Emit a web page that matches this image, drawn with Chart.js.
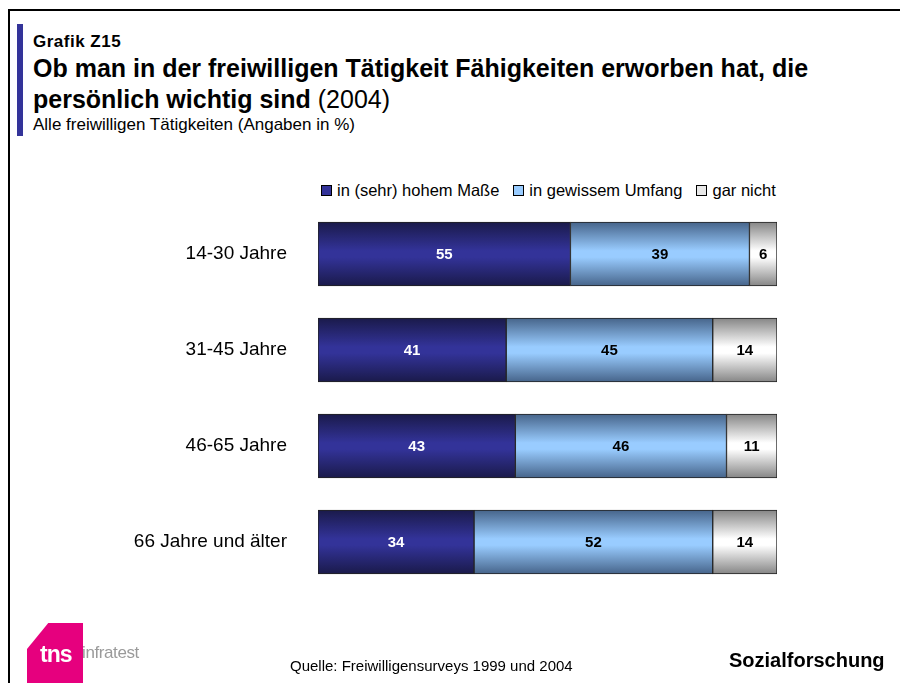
<!DOCTYPE html>
<html>
<head>
<meta charset="utf-8">
<script src="https://cdn.jsdelivr.net/npm/chart.js@4.4.1/dist/chart.umd.min.js"></script>
<style>
  html, body { margin: 0; padding: 0; background: #fff; }
  body { width: 900px; height: 683px; position: relative; overflow: hidden; font-family: "Liberation Sans", Arial, sans-serif; color: #000; }
  #frame { position: absolute; left: 8px; top: 9px; width: 900px; height: 700px; border-left: 2px solid #000; border-top: 2px solid #000; }
  #accent { position: absolute; left: 17px; top: 24px; width: 6px; height: 112px; background: #333399; }
  .t { position: absolute; white-space: nowrap; }
  #kicker { left: 33px; top: 32px; font-size: 17px; font-weight: bold; letter-spacing: 0.5px; }
  #title { left: 33px; top: 53px; font-size: 25px; font-weight: bold; line-height: 31px; }
  #title span { font-weight: normal; }
  #sub { left: 33px; top: 115px; font-size: 17px; }
  #legend { position: absolute; left: 321px; top: 181px; font-size: 16.5px; display: flex; }
  #legend div { display: flex; align-items: center; margin-right: 14px; }
  #legend i { display: inline-block; width: 9px; height: 9px; border: 1px solid #000; margin-right: 5px; }
  #chart { position: absolute; left: 0; top: 0; }
  #quelle { left: 290px; top: 657px; font-size: 15px; }
  #sozial { left: 729px; top: 649px; font-size: 20px; font-weight: bold; }
  #logo { position: absolute; left: 27px; top: 623px; width: 56px; height: 62px; background: #e6007e;
          clip-path: polygon(0 42%, 38% 0, 100% 0, 100% 100%, 0 100%); }
  #tns { left: 40px; top: 641px; font-size: 23px; font-weight: bold; color: #fff; letter-spacing: -1px; }
  #infra { left: 82px; top: 643px; font-size: 17px; color: #9a9a9a; letter-spacing: -0.4px; }
</style>
</head>
<body>
<div id="frame"></div>
<div id="accent"></div>
<div class="t" id="kicker">Grafik Z15</div>
<div class="t" id="title">Ob man in der freiwilligen Tätigkeit Fähigkeiten erworben hat, die<br>persönlich wichtig sind <span>(2004)</span></div>
<div class="t" id="sub">Alle freiwilligen Tätigkeiten (Angaben in %)</div>
<div id="legend"></div>
<canvas id="chart" width="900" height="683"></canvas>
<div id="logo"></div>
<div class="t" id="tns">tns</div>
<div class="t" id="infra">infratest</div>
<div class="t" id="quelle">Quelle: Freiwilligensurveys 1999 und 2004</div>
<div class="t" id="sozial">Sozialforschung</div>
<script>
const categories = ['14-30 Jahre', '31-45 Jahre', '46-65 Jahre', '66 Jahre und älter'];
const seriesNames = ['in (sehr) hohem Maße', 'in gewissem Umfang', 'gar nicht'];
const hoch = [55, 41, 43, 34];
const gewiss = [39, 45, 46, 52];
const garNicht = [6, 14, 11, 14];

// edge colour, middle colour, legend colour, label colour
const looks = [
  { edge: '#1a1a4a', mid: '#333399', key: '#333399', text: '#fff' },
  { edge: '#46648a', mid: '#99ccff', key: '#99ccff', text: '#000' },
  { edge: '#858585', mid: '#ffffff', key: '#e8e8e8', text: '#000' }
];

const legendEl = document.getElementById('legend');
seriesNames.forEach((name, i) => {
  const d = document.createElement('div');
  d.innerHTML = '<i style="background:' + looks[i].key + '"></i>' + name;
  legendEl.appendChild(d);
});

function barGradient(ctx, look) {
  const chart = ctx.chart;
  if (!chart.chartArea || !chart.scales.y) return look.mid;
  const y = chart.scales.y.getPixelForValue(ctx.dataIndex);
  const g = chart.ctx.createLinearGradient(0, y - 32, 0, y + 32);
  g.addColorStop(0, look.edge);
  g.addColorStop(0.45, look.mid);
  g.addColorStop(0.55, look.mid);
  g.addColorStop(1, look.edge);
  return g;
}

const valueLabels = {
  id: 'valueLabels',
  afterDatasetsDraw(chart) {
    const c = chart.ctx;
    c.save();
    c.font = 'bold 15px "Liberation Sans", Arial, sans-serif';
    c.textAlign = 'center';
    c.textBaseline = 'middle';
    chart.data.datasets.forEach((ds, di) => {
      chart.getDatasetMeta(di).data.forEach((el, i) => {
        c.fillStyle = looks[di].text;
        c.fillText(ds.data[i], (el.x + el.base) / 2, el.y + 1);
      });
    });
    c.restore();
  }
};

const seriesData = [hoch, gewiss, garNicht];

new Chart(document.getElementById('chart'), {
  type: 'bar',
  data: {
    labels: categories,
    datasets: seriesData.map((vals, i) => ({
      label: seriesNames[i],
      data: vals,
      backgroundColor: ctx => barGradient(ctx, looks[i]),
      borderColor: '#222',
      borderWidth: 1,
      borderSkipped: false,
      barThickness: 64
    }))
  },
  options: {
    indexAxis: 'y',
    responsive: false,
    animation: false,
    layout: { padding: { top: 206, bottom: 93, right: 123, left: 0 } },
    scales: {
      x: { stacked: true, min: 0, max: 100, display: false },
      y: {
        stacked: true,
        grid: { display: false },
        border: { display: false },
        afterFit: scale => { scale.width = 318; },
        ticks: {
          padding: 23,
          color: '#000',
          font: { family: '"Liberation Sans", Arial, sans-serif', size: 19 }
        }
      }
    },
    plugins: {
      legend: { display: false },
      tooltip: { enabled: false }
    }
  },
  plugins: [valueLabels]
});
</script>
</body>
</html>
